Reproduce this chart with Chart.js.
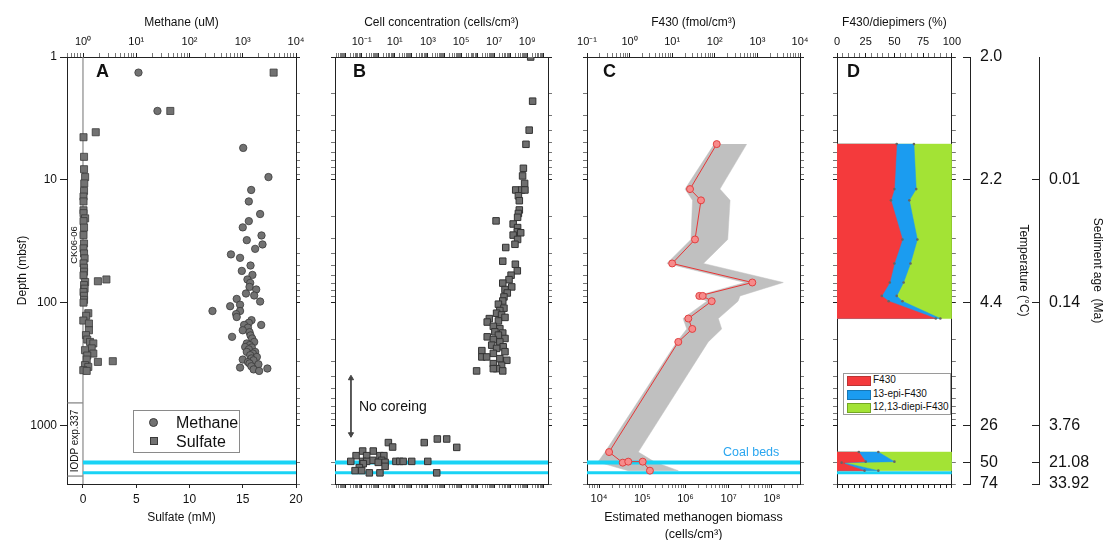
<!DOCTYPE html>
<html>
<head>
<meta charset="utf-8">
<script src="https://cdn.jsdelivr.net/npm/chart.js@4.4.1/dist/chart.umd.min.js"></script>
<style>
  body { margin: 0; background: #fff; width: 1109px; height: 540px; overflow: hidden; position: relative;
         font-family: Arial, "Liberation Sans", Helvetica, sans-serif; color: #111; }
  canvas { position: absolute; top: 0; }
  .lbl { position: absolute; white-space: nowrap; line-height: 1; }
  .panel { font-size: 18px; font-weight: 900; }
  .rot { transform: translate(-50%, -50%) rotate(-90deg); }
  .sw { position: absolute; }
</style>
</head>
<body>
<canvas id="chartA" width="312" height="540" style="left:0px"></canvas>
<canvas id="chartB" width="260" height="540" style="left:312px"></canvas>
<canvas id="chartC" width="248" height="540" style="left:572px"></canvas>
<canvas id="chartD" width="145" height="540" style="left:820px"></canvas>
<canvas id="chartT" width="74" height="540" style="left:958px"></canvas>
<canvas id="chartAge" width="77" height="540" style="left:1032px"></canvas>

<div class="lbl panel" style="left:96px;top:62px">A</div>
<div class="lbl panel" style="left:353px;top:62px">B</div>
<div class="lbl panel" style="left:603px;top:62px">C</div>
<div class="lbl panel" style="left:847px;top:62px">D</div>

<div class="lbl rot" style="left:74px;top:245px;font-size:9.5px">CK06-06</div>
<div class="lbl rot" style="left:75px;top:441px;font-size:10px">IODP exp.337</div>

<!-- legend panel A -->
<div style="position:absolute;left:133px;top:410px;width:105px;height:41px;border:1px solid #8a8a8a;background:#fff">
  <div class="sw" style="left:15px;top:7px;width:7px;height:7px;border-radius:50%;background:#727272;border:1px solid #3a3a3a"></div>
  <div class="lbl" style="left:42px;top:4px;font-size:16px">Methane</div>
  <div class="sw" style="left:16px;top:26px;width:6px;height:6px;background:#727272;border:1px solid #3a3a3a"></div>
  <div class="lbl" style="left:42px;top:23px;font-size:16px">Sulfate</div>
</div>

<div class="lbl" style="left:359px;top:399px;font-size:14px">No coreing</div>
<div class="lbl" style="left:723px;top:446px;font-size:12.5px;color:#2aa6f0">Coal beds</div>

<!-- legend panel D -->
<div style="position:absolute;left:843px;top:373px;width:106px;height:40px;border:1px solid #9a9a9a;background:#fff">
  <div class="sw" style="left:3px;top:2px;width:22px;height:8px;background:#f43a3c;border:1px solid #b33"></div>
  <div class="lbl" style="left:29px;top:1px;font-size:10px">F430</div>
  <div class="sw" style="left:3px;top:16px;width:22px;height:8px;background:#1b9cf0;border:1px solid #1777b5"></div>
  <div class="lbl" style="left:29px;top:15px;font-size:10px">13-epi-F430</div>
  <div class="sw" style="left:3px;top:29px;width:22px;height:8px;background:#a3e335;border:1px solid #74a624"></div>
  <div class="lbl" style="left:29px;top:28px;font-size:10px">12,13-diepi-F430</div>
</div>

<script>
// ---- data (depths in mbsf) ----
const methaneDepth = [1.34, 2.75, 5.5, 9.5, 12.1, 15.0, 19.0, 21.7, 24.4, 28.4, 31.0, 33.6, 36.5, 40.5, 43.2,
  49.9, 55.2, 59.5, 64.8, 69.1, 74.5, 78.2, 84.3, 87.5, 93.3, 98, 104, 107, 117, 117, 124, 131, 139, 146, 152,
  152, 160, 168, 174, 185, 190, 196, 209, 215, 222, 230, 232, 240, 252, 252, 260, 268, 277, 285, 291, 295, 305,
  313, 318, 330, 338, 344, 350, 360];
const methaneConc = [11, 25, 1020, 3040, 1440, 1300, 2120, 1300, 1000, 2250, 1190, 2350, 1710, 600, 890,
  1400, 960, 1520, 1225, 1380, 1340, 1790, 1150, 1640, 770, 2120, 890, 580, 270, 890, 750, 770, 1460, 1300, 1060,
  2220, 1250, 1000, 1340, 1400, 630, 1500, 1640, 1190, 1350, 1110, 1480, 1300, 1190, 1710, 1550, 1380, 1840, 1450,
  1000, 1590, 1250, 1340, 1970, 1450, 890, 2900, 1600, 2030];

const sulfateDepth = [1.34, 2.75, 4.1, 4.5, 6.5, 8.2, 9.5, 10.7, 12.3, 13.7, 15, 17.7, 18.7, 20.6, 21.7, 24.5,
  28.2, 33, 36.2, 39.8, 43.6, 48, 52, 56, 60, 64.8, 67, 68, 72, 77, 82, 88, 95, 100, 122, 128, 140, 148, 168, 184,
  200, 209, 215, 236, 244, 260, 270, 291, 300, 304, 323, 334, 355, 360];
const sulfateConc = [17.9, 8.2, 1.2, 0.05, 0.1, 0.1, 0.2, 0.12, 0.1, 0.05, 0.05, 0.05, 0.05, 0.2, 0.05, 0.1,
  0.05, 0.1, 0.05, 0.1, 0.15, 0.05, 0.1, 0.1, 0.05, 2.2, 1.4, 0.2, 0.1, 0.15, 0.05, 0.1, 0.1, 0.05, 0.5, 0.3, 0.03,
  0.56, 0.56, 0.28, 0.4, 0.66, 0.97, 0.82, 0.19, 0.97, 0.4, 0.35, 2.8, 1.4, 0.19, 0.5, 0.03, 0.35];

const cellDepth = [1.0, 2.29, 3.94, 5.14, 8.06, 9.3, 10.7, 12.1, 12.1, 12.1, 13.5, 14.8, 17.6, 18.8, 20.2, 21.6,
  22.9, 24.5, 26.5, 27.0, 28.2, 30.6, 33.5, 35.6, 46, 48.7, 55.1, 59.8, 65, 69.4, 74.5, 78.3, 83.5, 89.9, 97, 103,
  111, 116, 122, 126, 132, 135, 141, 144, 156, 163, 173, 177, 184, 190, 196, 200, 209, 222, 229, 236, 246, 251, 259,
  277, 277, 286, 295, 314, 324, 345, 345, 360, 360];
const cellConc = [1.6e9, 2.1e9, 1.3e9, 8.3e8, 5.8e8, 5.2e8, 6.9e8, 2.0e8, 4.6e8, 7.2e8, 2.9e8, 3.3e8, 3.3e8, 2.9e8,
  2.6e8, 1.3e7, 1.4e8, 2.6e8, 2.5e8, 4.0e8, 1.4e8, 2.6e8, 1.8e8, 5.0e7, 3.3e7, 1.9e8, 2.5e8, 1.05e8, 7.9e7, 3.3e7,
  1.15e8, 4.5e7, 6.2e7, 3.9e7, 3.3e7, 1.8e7, 3.9e7, 2.2e7, 1.4e7, 2.8e7, 4.5e7, 5.1e6, 1.8e7, 3.8e6, 8.9e6, 2.2e7,
  1.1e7, 3.3e7, 1.8e7, 3.8e6, 4.5e7, 8.9e6, 2.2e7, 7.1e6, 3.5e7, 1.4e7, 1.8e6, 4.5e7, 8.9e6, 1.8e6, 3.5e6, 2.2e7,
  5.8e7, 8.9e6, 2.8e7, 1.4e7, 8.9e6, 8.7e5, 3.3e7];
const deepCellDepth = [1290, 1290, 1380, 1380, 1500, 1510, 1617, 1617, 1763, 1763, 1763, 1763, 1925, 1925, 1963,
  1963, 1963, 1963, 1963, 1963, 1963, 1963, 2000, 2000, 2050, 2155, 2207, 2335, 2335, 2434, 2434, 2434];
const deepCellConc = [3700, 1.36e4, 600, 4.1, 7.4, 5.5e4, 0.115, 0.5, 0.046, 0.2, 1.27, 2.2, 0.46, 1.6, 0.022,
  0.115, 0.2, 11.7, 20, 32, 105, 980, 1.0, 2.6, 0.125, 2.6, 0.072, 0.04, 0.1, 0.29, 1.27, 3400];

const f430Depth = [5.12, 11.9, 14.7, 30.6, 48, 68.6, 88.2, 88.2, 97.4, 134.8, 163.8, 209, 1648, 2011, 1973, 1973, 2336];
const f430Conc = [111, 26.2, 47.4, 34.3, 10.0, 759, 43.3, 52, 84.6, 23.9, 29.6, 13.9, 0.33, 0.69, 0.93, 2.03, 3.0];
const bandDepth = [5.12, 11.9, 14.7, 30.6, 48, 68.6, 88.2, 97.4, 134.8, 163.8, 209, 1648, 1990, 2336];
const bandLow = [97, 20, 30, 27.6, 7.5, 512, 38, 65, 18, 22, 12.8, 0.265, 0.18, 0.93];
const bandHigh = [561, 132, 228, 201, 54, 4050, 391, 351, 121, 145, 70, 1.6, 3.9, 13.9];

// F430 diepimer shares (%), two sampled intervals
const shallowDepth = [5.12, 11.9, 14.7, 30.6, 48, 68.6, 88.2, 97.4, 134.8];
const shallowF430 = [52, 50, 47, 57, 50, 46, 39, 45, 86];
const shallowEpi = [15, 19, 16, 13, 14, 12, 13, 12, 4];
const deepDepth = [1648, 1973, 2011, 2336];
const deepF430 = [19, 25, 4, 24];
const deepEpi = [17, 25, 2, 12];

const coalBeds = [2000, 2430];
const noCoringSpan = [413, 1180];

const tempDepth = [1, 10, 100, 1000, 2000, 3000];
const tempLabels = ['2.0', '2.2', '4.4', '26', '50', '74'];
const ageDepth = [10, 100, 1000, 2000, 3000];
const ageLabels = ['0.01', '0.14', '3.76', '21.08', '33.92'];

// ---- helpers ----
const FONT = 'Arial, "Liberation Sans", Helvetica, sans-serif';
const INK = '#222';
const DEPTH_MIN = 1, DEPTH_MAX = 3000;
const SUP = {'0': '⁰', '1': '¹', '2': '²', '3': '³', '4': '⁴', '5': '⁵', '6': '⁶', '7': '⁷', '8': '⁸', '9': '⁹', '-': '⁻'};
const expOf = v => Math.round(Math.log10(v));
const isDecade = v => Math.abs(Math.log10(v) - expOf(v)) < 1e-6;
const pow10Label = v => '10' + String(expOf(v)).split('').map(c => SUP[c]).join('');
const pts = (xs, ys) => xs.map((x, i) => ({x, y: ys[i]}));

function logTickValues(min, max) {
  const out = [];
  for (let e = Math.floor(Math.log10(min)); e <= Math.ceil(Math.log10(max)); e++) {
    for (let m = 1; m < 10; m++) {
      const v = m * Math.pow(10, e);
      if (v >= min * 0.9999 && v <= max * 1.0001) out.push(v);
    }
  }
  return out;
}
const range = (a, b, step) => { const r = []; for (let v = a; v <= b; v += step) r.push(v); return r; };

function axis(o) {
  const horizontal = o.position === 'top' || o.position === 'bottom';
  return {
    type: o.type || 'linear',
    position: o.position,
    min: o.min, max: o.max,
    reverse: !!o.reverse,
    bounds: 'data',
    afterFit: s => { if (horizontal) s.height = o.size; else s.width = o.size; },
    afterBuildTicks: s => { s.ticks = o.ticks.map(value => ({value})); },
    border: {display: true, color: INK, width: 1},
    grid: {
      drawOnChartArea: false, drawTicks: true, tickLength: o.tickLength || 4, color: INK,
      tickColor: c => (o.isMajor && c.tick && !o.isMajor(c.tick.value)) ? '#777' : INK
    },
    ticks: {
      display: !!o.label, autoSkip: false, maxRotation: 0, minRotation: 0, padding: o.pad ?? 3,
      color: '#111', font: {family: FONT, size: o.fontSize || 11},
      callback: v => o.label ? o.label(v) : ''
    },
    title: o.title ? {
      display: true, text: o.title, color: '#111',
      font: {family: FONT, size: o.titleSize || 12, lineHeight: o.titleLine || 1.2},
      padding: o.titlePad
    } : {display: false}
  };
}

const depthTicks = logTickValues(DEPTH_MIN, DEPTH_MAX);
function depthAxis(position, size, withLabels) {
  return axis({
    type: 'logarithmic', position, size, reverse: true, min: DEPTH_MIN, max: DEPTH_MAX,
    ticks: withLabels ? depthTicks.filter(isDecade) : depthTicks, isMajor: isDecade,
    tickLength: withLabels ? 7 : 4,
    label: withLabels ? (v => isDecade(v) ? String(Math.round(v)) : '') : null,
    fontSize: 12,
    title: withLabels ? 'Depth (mbsf)' : null, titlePad: {top: 15}
  });
}

function coalLines(xAxisID, x0, x1) {
  return coalBeds.map((d, i) => ({
    data: [{x: x0, y: d}, {x: x1, y: d}], xAxisID, yAxisID: 'y', showLine: true,
    borderColor: '#19d3f5', borderWidth: i === 0 ? 4 : 3, pointRadius: 0
  }));
}

const baseOptions = scales => ({
  responsive: false, animation: false, events: [],
  layout: {padding: 0},
  plugins: {legend: {display: false}, tooltip: {enabled: false}},
  scales
});

const marker = {backgroundColor: '#727272', borderColor: '#3a3a3a', borderWidth: 0.8};

// ---- panel A: methane & sulfate ----
new Chart(document.getElementById('chartA'), {
  type: 'scatter',
  data: {datasets: [
    {data: pts(methaneConc, methaneDepth), xAxisID: 'xTop', yAxisID: 'y', pointStyle: 'circle', pointRadius: 3.7, ...marker},
    {data: pts(sulfateConc, sulfateDepth), xAxisID: 'xBot', yAxisID: 'y', pointStyle: 'rect', pointRadius: 5, ...marker},
    ...coalLines('xBot', 0, 20),
    {data: [{x: 0, y: DEPTH_MIN}, {x: 0, y: DEPTH_MAX}], xAxisID: 'xBot', yAxisID: 'y', showLine: true,
     borderColor: '#8a8a8a', borderWidth: 1.2, pointRadius: 0},
    {data: [{x: -1.5, y: 656}, {x: 0, y: 656}], xAxisID: 'xBot', yAxisID: 'y', showLine: true,
     borderColor: '#666', borderWidth: 1, pointRadius: 0},
    {data: [{x: -1.5, y: 2585}, {x: 0, y: 2585}], xAxisID: 'xBot', yAxisID: 'y', showLine: true,
     borderColor: '#666', borderWidth: 1, pointRadius: 0}
  ]},
  options: baseOptions({
    xTop: axis({type: 'logarithmic', position: 'top', size: 57, min: 0.5, max: 1e4,
      ticks: logTickValues(0.5, 1e4), isMajor: isDecade, label: v => isDecade(v) ? pow10Label(v) : '',
      pad: 4, title: 'Methane (uM)', titlePad: {top: 15}}),
    xBot: axis({position: 'bottom', size: 56, min: -1.5, max: 20, ticks: [0, 5, 10, 15, 20],
      label: v => String(v), fontSize: 12, pad: 4, title: 'Sulfate (mM)', titlePad: {bottom: 15}}),
    y: depthAxis('left', 67, true),
    yR: depthAxis('right', 16, false)
  })
});

// ---- panel B: cell concentration ----
const cellMin = Math.pow(10, -2.61), cellMax = Math.pow(10, 10.25);
const cellTicks = logTickValues(cellMin, cellMax);
new Chart(document.getElementById('chartB'), {
  type: 'scatter',
  data: {datasets: [
    {data: pts(cellConc.concat(deepCellConc), cellDepth.concat(deepCellDepth)), xAxisID: 'xTop', yAxisID: 'y',
     pointStyle: 'rect', pointRadius: 4.6, backgroundColor: '#6e6e6e', borderColor: '#333', borderWidth: 1},
    {data: noCoringSpan.map(d => ({x: 0.0226, y: d})), xAxisID: 'xTop', yAxisID: 'y', showLine: true,
     borderColor: '#444', borderWidth: 1, pointStyle: 'triangle', pointRadius: 3,
     pointRotation: [0, 180], pointBackgroundColor: '#444', pointBorderColor: '#444'},
    ...coalLines('xTop', cellMin, cellMax)
  ]},
  options: baseOptions({
    xTop: axis({type: 'logarithmic', position: 'top', size: 57, min: cellMin, max: cellMax,
      ticks: cellTicks, isMajor: isDecade,
      label: v => (isDecade(v) && Math.abs(expOf(v)) % 2 === 1) ? pow10Label(v) : '',
      pad: 4, title: 'Cell concentration (cells/cm³)', titlePad: {top: 15}}),
    xBot: axis({type: 'logarithmic', position: 'bottom', size: 56, min: cellMin, max: cellMax,
      ticks: cellTicks, isMajor: isDecade}),
    y: depthAxis('left', 23, false),
    yR: depthAxis('right', 24, false)
  })
});

// ---- panel C: F430 / methanogen biomass ----
const bandPolygon = pts(bandLow, bandDepth).concat(pts(bandHigh, bandDepth).reverse());
const bioMin = Math.pow(10, 3.72), bioMax = Math.pow(10, 8.65);
new Chart(document.getElementById('chartC'), {
  type: 'scatter',
  data: {datasets: [
    {data: pts(f430Conc, f430Depth), xAxisID: 'xTop', yAxisID: 'y', showLine: true,
     borderColor: '#e83535', borderWidth: 1, pointRadius: 3.5,
     pointBackgroundColor: '#f78b8b', pointBorderColor: '#e04040', pointBorderWidth: 1},
    ...coalLines('xTop', 0.1, 1e4),
    {data: bandPolygon, xAxisID: 'xTop', yAxisID: 'y', showLine: true, fill: 'shape',
     backgroundColor: '#c0c0c0', borderColor: '#c0c0c0', borderWidth: 0.5, pointRadius: 0}
  ]},
  options: baseOptions({
    xTop: axis({type: 'logarithmic', position: 'top', size: 57, min: 0.1, max: 1e4,
      ticks: logTickValues(0.1, 1e4), isMajor: isDecade, label: v => isDecade(v) ? pow10Label(v) : '',
      pad: 4, title: 'F430 (fmol/cm³)', titlePad: {top: 15}}),
    xBot: axis({type: 'logarithmic', position: 'bottom', size: 56, min: bioMin, max: bioMax,
      ticks: logTickValues(bioMin, bioMax), isMajor: isDecade, label: v => isDecade(v) ? pow10Label(v) : '',
      pad: 4, title: ['Estimated methanogen biomass', '(cells/cm³)'], titleSize: 12.5, titleLine: 1.35,
      titlePad: {bottom: -3}}),
    y: depthAxis('left', 15, false),
    yR: depthAxis('right', 20, false)
  })
});

// ---- panel D: F430 diepimer shares ----
function shareShape(depths, edge) {
  const first = depths[0], last = depths[depths.length - 1];
  return [{x: 0, y: first}].concat(pts(edge, depths), [{x: 0, y: last}]);
}
function blockShape(depths) {
  const first = depths[0], last = depths[depths.length - 1];
  return [{x: 0, y: first}, {x: 100, y: first}, {x: 100, y: last}, {x: 0, y: last}];
}
const cumulate = (a, b) => a.map((v, i) => v + b[i]);
function shareSets(depths, f430, epi) {
  const dot = c => (c.raw && c.raw.x > 0 && c.raw.x < 100) ? 1.3 : 0;
  return [
    {data: shareShape(depths, f430), fill: 'shape', backgroundColor: '#f43a3c', borderColor: '#f43a3c',
     borderWidth: 0.5, pointRadius: dot, pointBackgroundColor: '#666', pointBorderWidth: 0},
    {data: shareShape(depths, cumulate(f430, epi)), fill: 'shape', backgroundColor: '#1b9cf0', borderColor: '#1b9cf0',
     borderWidth: 0.5, pointRadius: dot, pointBackgroundColor: '#666', pointBorderWidth: 0},
    {data: blockShape(depths), fill: 'shape', backgroundColor: '#a3e335', borderColor: '#a3e335',
     borderWidth: 0.5, pointRadius: 0}
  ].map(ds => Object.assign(ds, {xAxisID: 'xTop', yAxisID: 'y', showLine: true}));
}
new Chart(document.getElementById('chartD'), {
  type: 'scatter',
  data: {datasets: [
    ...shareSets(shallowDepth, shallowF430, shallowEpi),
    ...shareSets(deepDepth, deepF430, deepEpi),
    ...coalLines('xTop', 0, 100)
  ]},
  options: baseOptions({
    xTop: axis({position: 'top', size: 57, min: 0, max: 100, ticks: range(0, 100, 5),
      isMajor: v => v % 25 === 0, label: v => v % 25 === 0 ? String(v) : '',
      pad: 4, title: 'F430/diepimers (%)', titlePad: {top: 15}}),
    xBot: axis({position: 'bottom', size: 56, min: 0, max: 100, ticks: range(0, 100, 5)}),
    y: depthAxis('left', 17, false),
    yR: depthAxis('right', 10, false)
  })
});

// ---- right-hand temperature and sediment-age axes ----
function sideAxis(id, depths, labels, title, padLeft, width, titlePad) {
  new Chart(document.getElementById(id), {
    type: 'scatter',
    data: {datasets: [{data: []}]},
    options: {
      responsive: false, animation: false, events: [],
      layout: {padding: {left: padLeft, right: 0, top: 57, bottom: 56}},
      plugins: {legend: {display: false}, tooltip: {enabled: false}},
      scales: {
        x: {display: false, min: 0, max: 1},
        y: {
          type: 'logarithmic', position: 'right', reverse: true, min: DEPTH_MIN, max: DEPTH_MAX, bounds: 'data',
          afterFit: s => { s.width = width; },
          afterBuildTicks: s => { s.ticks = depths.map(value => ({value})); },
          border: {display: true, color: INK, width: 1},
          grid: {drawOnChartArea: true, drawTicks: false, color: INK, lineWidth: 1},
          ticks: {autoSkip: false, padding: 10, color: '#111', font: {family: FONT, size: 16},
                  callback: (v, i) => labels[i]},
          title: {display: true, text: title, color: '#111', font: {family: FONT, size: 12, lineHeight: 1.2},
                  padding: {top: titlePad}}
        }
      }
    }
  });
}
sideAxis('chartT', tempDepth, tempLabels, 'Temperature (°C)', 5, 62, 1);
sideAxis('chartAge', ageDepth, ageLabels, 'Sediment age  (Ma)', 0, 70, 4);
</script>
</body>
</html>
